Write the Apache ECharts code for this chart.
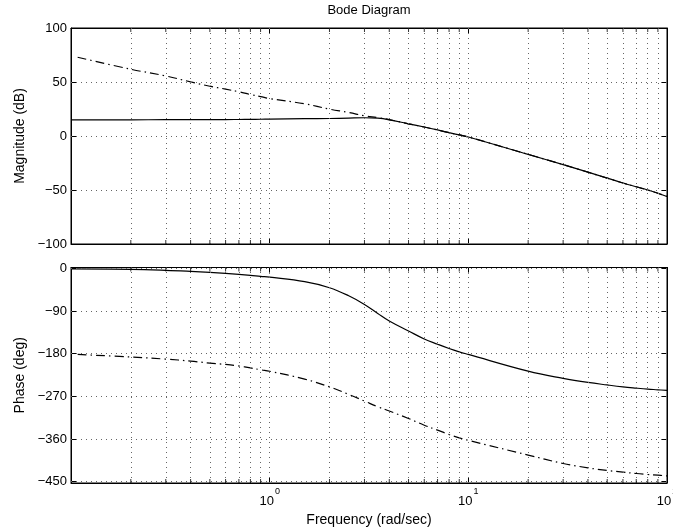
<!DOCTYPE html>
<html>
<head>
<meta charset="utf-8">
<script src="https://cdn.jsdelivr.net/npm/echarts@6/dist/echarts.min.js"></script>
<style>
  html, body { margin: 0; padding: 0; background: #fff; }
  #chart { width: 673px; height: 531px; }
</style>
</head>
<body>
<div id="chart"></div>
<script>
// Frequency samples (rad/sec) for the closed-loop response
const freq = [0.1, 0.2, 0.3, 0.4, 0.5, 0.6, 0.7, 0.8, 0.9, 1, 1.5, 2, 2.5, 3, 3.5, 4, 5, 6, 7, 8, 9, 10,
              20, 30, 40, 50, 60, 70, 80, 90, 100];
// Frequency samples (rad/sec) for the open-loop response
const freqOpen = [0.108, 0.2, 0.3, 0.4, 0.5, 0.6, 0.7, 0.8, 0.9, 1, 1.5, 2, 2.5, 3, 3.5, 4, 5, 6, 7, 8, 9, 10,
                  20, 30, 40, 50, 60, 70, 80, 90, 100];

// Magnitude (dB)
const magClosed = [15.0, 15.0, 15.1, 15.1, 15.2, 15.2, 15.3, 15.4, 15.5, 15.6, 16.0, 16.2, 16.6, 16.9, 16.5, 15.0,
                   11.3, 8.3, 5.6, 3.1, 1.0, -0.9, -17.0, -26.5, -33.5, -39.0, -43.5, -47.0, -50.0, -53.0, -56.0];
const magOpen = [72.9, 61.8, 55.6, 50.1, 46.1, 43.4, 40.9, 38.4, 36.5, 34.7, 29.8, 24.9, 21.8, 18.7, 17.0, 15.2,
                 11.3, 8.3, 5.6, 3.1, 1.0, -0.9, -17.0, -26.5, -33.5, -39.0, -43.5, -47.0, -50.0, -53.0, -56.0];

// Phase (deg)
const phaseClosed = [-1, -2, -4, -6.2, -8.3, -10.4, -12.5, -14.6, -16.8, -18.5, -28, -40.7, -57.7, -75.9, -95, -111,
                     -132, -149, -160, -169, -176, -181.5, -216.8, -232, -240.7, -246, -250, -252.7, -254.8, -256.2, -257.6];
const phaseOpen = [-181.5, -187, -191.4, -195.6, -199.9, -202.7, -206, -210, -214, -217, -233.7, -250, -266, -280, -292, -301,
                   -316.8, -331, -341.4, -350.6, -357.6, -363, -394, -411.8, -421, -426.6, -430, -433, -435, -436.5, -438];

// Axis ticks and grid positions
const magTicks = [-100, -50, 0, 50, 100];
const phaseTicks = [-450, -360, -270, -180, -90, 0];
const decadeLines = [1, 10];
const minorFreqs = [0.2, 0.3, 0.4, 0.5, 0.6, 0.7, 0.8, 0.9,
                    2, 3, 4, 5, 6, 7, 8, 9,
                    20, 30, 40, 50, 60, 70, 80, 90];

const FONT = '"Liberation Sans", Arial, Helvetica, sans-serif';
const xMin = 0.1, xMax = 100;
const magRange = [-100, 100];
const phaseRange = [-453, 2];

const zip = (xs, ys) => xs.map((x, i) => [x, ys[i]]);
const minusFmt = v => (v < 0 ? '\u2212' + Math.abs(v) : String(v));

const gridLineStyle = { type: [1, 4], color: '#666', width: 1 };

function gridSeries(xi, yi, hValues) {
  const data = [];
  minorFreqs.concat(decadeLines).forEach(f => data.push({ xAxis: f }));
  hValues.forEach(v => data.push({ yAxis: v }));
  return {
    type: 'line', xAxisIndex: xi, yAxisIndex: yi, data: [], z: 1,
    silent: true,
    markLine: {
      silent: true, symbol: 'none', animation: false,
      label: { show: false },
      lineStyle: gridLineStyle,
      data: data
    }
  };
}

function minorTickSeries(xi, yi, yVal, offset) {
  return {
    type: 'scatter', xAxisIndex: xi, yAxisIndex: yi, z: 5, silent: true,
    symbol: 'rect', symbolSize: [1, 4], symbolOffset: [0, offset],
    itemStyle: { color: '#000' }, clip: false,
    data: minorFreqs.map(f => [f, yVal])
  };
}

function curve(xi, yi, xs, ys, dashed) {
  return {
    type: 'line', xAxisIndex: xi, yAxisIndex: yi, z: 3,
    data: zip(xs, ys), showSymbol: false, smooth: 0.4,
    lineStyle: { color: '#000', width: 1.2, type: dashed ? [9, 4, 1.5, 4] : 'solid' },
    silent: true
  };
}

function logAxis(gridIndex, position, extra) {
  return Object.assign({
    type: 'log', logBase: 10, gridIndex: gridIndex, position: position,
    min: xMin, max: xMax,
    axisLine: { show: true, onZero: false, lineStyle: { color: '#000', width: 1 } },
    axisTick: { show: true, inside: true, length: 6, lineStyle: { color: '#000' } },
    axisLabel: { show: false },
    splitLine: { show: false }
  }, extra || {});
}

function valAxis(gridIndex, position, range, ticks, extra) {
  return Object.assign({
    type: 'value', gridIndex: gridIndex, position: position,
    min: range[0], max: range[1],
    axisLine: { show: true, onZero: false, lineStyle: { color: '#000', width: 1 } },
    axisTick: { show: true, inside: true, length: 5, customValues: ticks, lineStyle: { color: '#000' } },
    axisLabel: { show: false, customValues: ticks },
    splitLine: { show: false }
  }, extra || {});
}

const chart = echarts.init(document.getElementById('chart'), null, { renderer: 'canvas' });

chart.setOption({
  animation: false,
  backgroundColor: '#fff',
  textStyle: { fontFamily: FONT },
  grid: [
    { left: 71, right: 6, top: 28, height: 216, show: true, borderColor: '#000', borderWidth: 1,
      containLabel: false, outerBoundsMode: 'none' },
    { left: 71, right: 6, top: 267.5, height: 215.5, show: true, borderColor: '#000', borderWidth: 1,
      containLabel: false, outerBoundsMode: 'none' }
  ],
  xAxis: [
    logAxis(0, 'bottom'),
    logAxis(0, 'top', {
      name: 'Bode Diagram', nameLocation: 'middle', nameGap: 11,
      nameTextStyle: { fontSize: 13, color: '#000', fontFamily: FONT }
    }),
    logAxis(1, 'bottom', {
      name: 'Frequency (rad/sec)', nameLocation: 'middle', nameGap: 30,
      nameTextStyle: { fontSize: 14, color: '#000', fontFamily: FONT },
      axisLabel: {
        show: true, margin: 4, showMinLabel: false,
        formatter: function (v) {
          const e = Math.round(Math.log10(v));
          if (e <= -1) return '';
          return '{b|10}{s|' + e + '}';
        },
        rich: {
          b: { fontSize: 13, color: '#000', fontFamily: FONT, lineHeight: 21, verticalAlign: 'bottom' },
          s: { fontSize: 9, color: '#000', fontFamily: FONT, verticalAlign: 'top', padding: [0, 0, 0, 1] }
        }
      }
    }),
    logAxis(1, 'top')
  ],
  yAxis: [
    valAxis(0, 'left', magRange, magTicks, {
      name: 'Magnitude (dB)', nameLocation: 'middle', nameGap: 41,
      nameTextStyle: { fontSize: 14, color: '#000', fontFamily: FONT },
      axisLabel: { show: true, customValues: magTicks, margin: 4, fontSize: 13, color: '#000', formatter: minusFmt }
    }),
    valAxis(0, 'right', magRange, magTicks),
    valAxis(1, 'left', phaseRange, phaseTicks, {
      name: 'Phase (deg)', nameLocation: 'middle', nameGap: 41,
      nameTextStyle: { fontSize: 14, color: '#000', fontFamily: FONT },
      axisLabel: { show: true, customValues: phaseTicks, margin: 4, fontSize: 13, color: '#000', formatter: minusFmt }
    }),
    valAxis(1, 'right', phaseRange, phaseTicks)
  ],
  series: [
    gridSeries(0, 0, [-50, 0, 50]),
    gridSeries(2, 2, [-450, -360, -270, -180, -90, 0]),
    minorTickSeries(0, 0, magRange[0], -2),
    minorTickSeries(1, 1, magRange[1], 2),
    minorTickSeries(2, 2, phaseRange[0], -2),
    minorTickSeries(3, 3, phaseRange[1], 2),
    curve(0, 0, freqOpen, magOpen, true),
    curve(0, 0, freq, magClosed, false),
    curve(2, 2, freqOpen, phaseOpen, true),
    curve(2, 2, freq, phaseClosed, false)
  ]
});
</script>
</body>
</html>
